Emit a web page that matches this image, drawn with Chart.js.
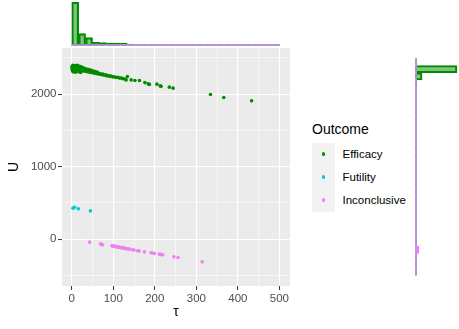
<!DOCTYPE html>
<html>
<head>
<meta charset="utf-8">
<script src="https://cdn.jsdelivr.net/npm/chart.js"></script>
<style>
  html, body { margin: 0; padding: 0; background: #fff; }
  #wrap { position: relative; width: 459px; height: 329px; overflow: hidden; font-family: "Liberation Sans", Arial, sans-serif; }
  canvas { position: absolute; }
  #main { left: 0; top: 0; }
  #top { left: 0; top: 0; }
  #side { left: 415px; top: 48px; }
  .lg { position: absolute; white-space: nowrap; }
  #lgTitle { left: 312px; top: 121px; font-size: 14px; line-height: 16px; color: #000; }
  #lgKeys { left: 312px; top: 143px; width: 23px; height: 69px; background: #F2F2F2; }
  .dot { position: absolute; width: 3.6px; height: 3.6px; border-radius: 50%; left: 321.7px; }
  .lab { left: 342.5px; font-size: 11.5px; line-height: 14px; color: #000; }
</style>
</head>
<body>
<div id="wrap">
  <canvas id="main" width="300" height="329"></canvas>
  <canvas id="top" width="300" height="46"></canvas>
  <canvas id="side" width="44" height="238"></canvas>
  <div class="lg" id="lgTitle">Outcome</div>
  <div class="lg" id="lgKeys"></div>
  <div class="dot" style="top:152.2px;background:#008B00"></div>
  <div class="dot" style="top:175.2px;background:#00CDCD"></div>
  <div class="dot" style="top:198.2px;background:#EE82EE"></div>
  <div class="lg lab" style="top:147px">Efficacy</div>
  <div class="lg lab" style="top:170px">Futility</div>
  <div class="lg lab" style="top:193px">Inconclusive</div>
</div>
<script>
// scatter data, [tau, U]
var efficacy = [
  [1,2385],[2,2360],[3,2340],[4,2325],[2,2320],[5,2390],[6,2372],[7,2350],[8,2330],[9,2315],
  [10,2388],[11,2365],[12,2345],[13,2322],[14,2378],[15,2355],[16,2335],[17,2312],[18,2370],[19,2348],
  [20,2328],[22,2360],[23,2340],[24,2318],[26,2352],[27,2333],[29,2345],[30,2320],[32,2338],[34,2315],
  [36,2332],[38,2310],[40,2325],[42,2305],[44,2318],[46,2300],[48,2312],[50,2295],[53,2305],[55,2288],
  [58,2298],[60,2282],[63,2290],[66,2275],[69,2282],[72,2268],[75,2276],[78,2262],[82,2266],[85,2252],
  [88,2258],[92,2245],[95,2250],[99,2238],[103,2240],[107,2230],[111,2232],[115,2222],[119,2224],[123,2214],
  [128,2210],[134,2243],[131,2197],[143,2197],[152,2188],[163,2188],[176,2160],[184,2142],[187,2135],[205,2138],
  [213,2114],[215,2108],[235,2097],[244,2083],[334,1996],[366,1954],[433,1908],
  [3,2400],[8,2395],[13,2398],[4,2305],[10,2302],[21,2300],
  [1,2345],[1,2370],[5,2352],[6,2338],[9,2378],[11,2330],[15,2392],[17,2385],[19,2325],[21,2380],
  [25,2370],[28,2360],[31,2355],[35,2348],[39,2340],[43,2335],[47,2328],[52,2318],[57,2312],[62,2303]
];
var futility = [[3,428],[7,441],[16,418],[45,390]];
var inconclusive = [
  [43,-41],[69,-65],[72,-70],[74,-79],[97,-92],[99,-95],[101,-97],[103,-99],[105,-101],[107,-103],
  [109,-105],[111,-107],[113,-110],[115,-112],[118,-115],[120,-117],[122,-119],[124,-121],[126,-123],[128,-126],
  [130,-128],[132,-130],[134,-133],[136,-135],[139,-138],[147,-148],[150,-151],[159,-161],[162,-164],[175,-175],
  [191,-189],[194,-192],[199,-198],[211,-207],[214,-210],[219,-216],[246,-244],[256,-253],[314,-313]
];

// marginal histogram of tau (30 bins, centers)
var tauBins = [8.3,25.0,41.7,58.3,75.0,91.7,108.3,125.0,141.7,158.3,175.0,191.7,208.3,225.0,241.7,
  258.3,275.0,291.7,308.3,325.0,341.7,358.3,375.0,391.7,408.3,425.0,441.7,458.3,475.0,491.7];
var tauEfficacy     = [230,65,44,21,18,16,16,14,10,7,4,3,2,1,2,0,0,0,0,0,1,1,0,0,0,1,0,0,0,0];
var tauFutility     = [3,0,1,0,0,0,0,0,0,0,0,0,0,0,0,0,0,0,0,0,0,0,0,0,0,0,0,0,0,0];
var tauInconclusive = [0,0,1,0,3,2,8,8,4,3,1,3,2,1,1,1,0,0,1,0,0,0,0,0,0,0,0,0,0,0];

// marginal histogram of U (30 bins, centers)
var uBins = [-445.2,-345.5,-245.8,-146.2,-46.5,53.2,152.8,252.5,352.2,451.8,551.5,651.2,750.8,850.5,950.2,
  1049.8,1149.5,1249.2,1348.8,1448.5,1548.2,1647.8,1747.5,1847.2,1946.8,2046.5,2146.2,2245.8,2345.5,2445.2];
var uEfficacy     = [0,0,0,0,0,0,0,0,0,0,0,0,0,0,0,0,0,0,0,0,0,0,0,0,3,3,15,64,380,0];
var uFutility     = [0,0,0,0,0,0,0,0,1,3,0,0,0,0,0,0,0,0,0,0,0,0,0,0,0,0,0,0,0,0];
var uInconclusive = [0,1,6,36,5,0,0,0,0,0,0,0,0,0,0,0,0,0,0,0,0,0,0,0,0,0,0,0,0,0];

var xTicks = [0,50,100,150,200,250,300,350,400,450,500];
var yTicks = [-500,0,500,1000,1500,2000,2500];

var FONT = '"Liberation Sans", Arial, sans-serif';
var GREEN = '#008B00', CYAN = '#00CDCD', VIOLET = '#EE82EE';

var panelBg = {
  id: 'panelBg',
  beforeDraw: function(c){
    var a = c.chartArea, x = c.ctx;
    x.save(); x.fillStyle = '#EBEBEB';
    x.fillRect(a.left, a.top, a.right - a.left, a.bottom - a.top);
    x.restore();
  }
};

function pts(arr){ return arr.map(function(p){ return {x: p[0], y: p[1]}; }); }

function axis(min, max, ticks, major, title, fit, titlePad){
  return {
    type: 'linear', min: min, max: max,
    afterBuildTicks: function(s){ s.ticks = ticks.map(function(v){ return {value: v}; }); },
    afterFit: fit,
    border: { display: false },
    grid: {
      color: '#FFFFFF',
      lineWidth: function(c){ return c.tick && c.tick.value % major === 0 ? 1.1 : 0.55; },
      tickLength: 4,
      tickWidth: 1,
      tickColor: function(c){ return c.tick && c.tick.value % major === 0 ? '#333333' : 'rgba(0,0,0,0)'; }
    },
    ticks: {
      autoSkip: false, maxRotation: 0, padding: 1.5, color: '#4D4D4D',
      font: { family: FONT, size: 11.5 },
      callback: function(v){ return v % major === 0 ? String(v) : ''; }
    },
    title: { display: true, text: title, color: '#000', font: { family: FONT, size: 14 }, padding: titlePad }
  };
}

new Chart(document.getElementById('main'), {
  type: 'scatter',
  data: {
    datasets: [
      { label: 'Efficacy', data: pts(efficacy), backgroundColor: GREEN },
      { label: 'Futility', data: pts(futility), backgroundColor: CYAN },
      { label: 'Inconclusive', data: pts(inconclusive), backgroundColor: VIOLET }
    ]
  },
  options: {
    responsive: false, animation: false, devicePixelRatio: 1,
    layout: { padding: { top: 48, right: 10, left: 0, bottom: 0 } },
    elements: { point: { radius: 1.8, borderWidth: 0, hoverRadius: 1.8 } },
    plugins: { legend: { display: false }, tooltip: { enabled: false } },
    scales: {
      x: axis(-23.5, 525.5, xTicks, 100, 'τ', function(s){ s.height = 43; }, { top: 0, bottom: 8.6 }),
      y: axis(-646, 2637, yTicks, 1000, 'U', function(s){ s.width = 62; }, { top: 5.6, bottom: 0 })
    }
  },
  plugins: [panelBg]
});

function histSet(label, xs, counts, fill, line, horiz){
  return {
    label: label,
    data: xs.map(function(b, i){ return horiz ? {x: counts[i], y: b} : {x: b, y: counts[i]}; }),
    backgroundColor: fill, borderColor: line
  };
}

var barOpts = { grouped: false, barPercentage: 1, categoryPercentage: 1, borderWidth: 1.5, borderSkipped: false, minBarLength: 1.5 };

new Chart(document.getElementById('top'), {
  type: 'bar',
  data: {
    datasets: [
      histSet('Inconclusive', tauBins, tauInconclusive, 'rgba(238,130,238,0.5)', VIOLET, false),
      histSet('Futility', tauBins, tauFutility, 'rgba(0,205,205,0.5)', CYAN, false),
      histSet('Efficacy', tauBins, tauEfficacy, 'rgba(0,139,0,0.5)', GREEN, false)
    ]
  },
  options: {
    responsive: false, animation: false, devicePixelRatio: 1,
    layout: { padding: { left: 62, right: 10, top: 0, bottom: 0 } },
    datasets: { bar: barOpts },
    plugins: { legend: { display: false }, tooltip: { enabled: false } },
    scales: {
      x: { type: 'linear', min: -23.5, max: 525.5, offset: false, display: false },
      y: { type: 'linear', min: 0, max: 242, display: false }
    }
  }
});

new Chart(document.getElementById('side'), {
  type: 'bar',
  data: {
    datasets: [
      histSet('Inconclusive', uBins, uInconclusive, 'rgba(238,130,238,0.5)', VIOLET, true),
      histSet('Futility', uBins, uFutility, 'rgba(0,205,205,0.5)', CYAN, true),
      histSet('Efficacy', uBins, uEfficacy, 'rgba(0,139,0,0.5)', GREEN, true)
    ]
  },
  options: {
    indexAxis: 'y',
    responsive: false, animation: false, devicePixelRatio: 1,
    layout: { padding: 0 },
    datasets: { bar: barOpts },
    plugins: { legend: { display: false }, tooltip: { enabled: false } },
    scales: {
      x: { type: 'linear', min: 0, max: 398, display: false },
      y: { type: 'linear', min: -646, max: 2637, offset: false, display: false }
    }
  }
});
</script>
</body>
</html>
